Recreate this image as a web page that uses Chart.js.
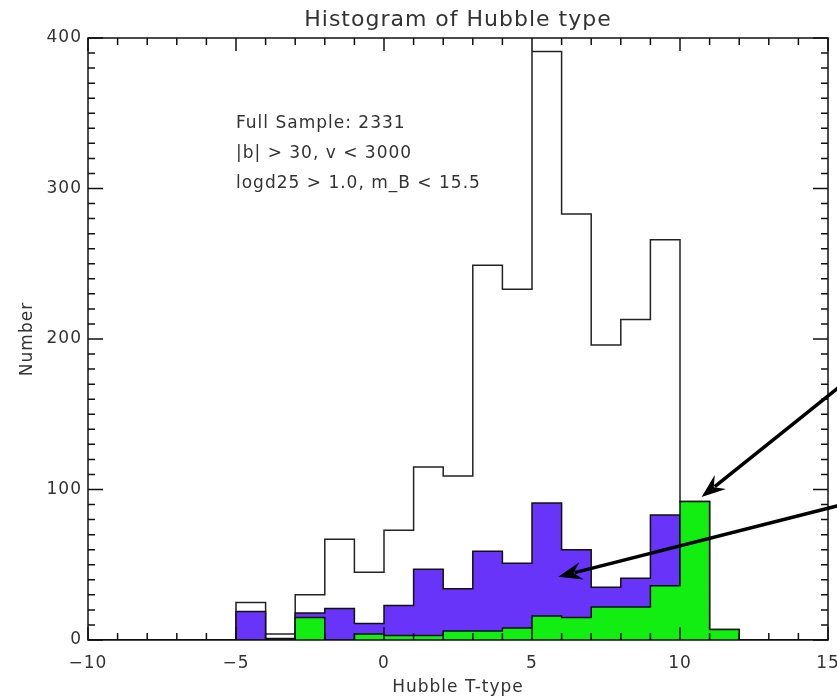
<!DOCTYPE html>
<html lang="en">
<head>
<meta charset="UTF-8">
<title>Histogram of Hubble type</title>
<script src="https://cdn.jsdelivr.net/npm/chart.js@4.4.0/dist/chart.umd.min.js"></script>
<style>
    html, body { margin: 0; padding: 0; background: #fff; overflow: hidden; }
    #wrap { width: 837px; height: 700px; overflow: hidden; }
</style>
</head>
<body>
<div id="wrap"><canvas id="hist" width="860" height="700"></canvas></div>

<script type="text/javascript">
    // left edge of each unit-wide T-type bin
    var binEdges = [-10, -9, -8, -7, -6, -5, -4, -3, -2, -1, 0, 1, 2, 3, 4, 5, 6, 7, 8, 9, 10, 11, 12, 13, 14];
    // full sample (outline only)
    var fullCounts = [0, 0, 0, 0, 0, 25, 4, 30, 67, 45, 73, 115, 109, 249, 233, 391, 283, 196, 213, 266, 92, 7, 0, 0, 0];
    // purple subsample
    var purpleCounts = [0, 0, 0, 0, 0, 19, 1, 18, 21, 11, 23, 47, 34, 59, 51, 91, 60, 35, 41, 83, 0, 0, 0, 0, 0];
    // green subsample
    var greenCounts = [0, 0, 0, 0, 0, 0, 0, 15, 0, 4, 3, 3, 6, 6, 8, 16, 15, 22, 22, 36, 92, 7, 0, 0, 0];

    var xTickValues = [-10, -5, 0, 5, 10, 15];
    var yTickValues = [0, 100, 200, 300, 400];
    var xMinorStep = 1, yMinorStep = 10;

    var notes = ['Full Sample: 2331', '|b| > 30, v < 3000', 'logd25 > 1.0, m_B < 15.5'];
    var notesX = -5.0, notesY = [343, 323, 303];

    // arrows [tailX, tailY, tipX, tipY] in axis units
    var arrows = [
        [15.5, 170, 10.73, 95],
        [15.5, 90, 5.89, 42]
    ];

    var FONT = '"DejaVu Sans", sans-serif';
    var INK = '#333';

    function stepPoints(counts) {
        var pts = binEdges.map(function (e, i) { return {x: e, y: counts[i]}; });
        pts.push({x: binEdges[binEdges.length - 1] + 1, y: 0});
        return pts;
    }

    function fmtTick(v) {
        return String(v).replace('-', '\u2212');
    }

    // IDL-like box with inward ticks on all four sides
    var frameTicks = {
        id: 'frameTicks',
        beforeLayout: function (chart) {
            chart.ctx.letterSpacing = '1px';
        },
        afterDatasetsDraw: function (chart) {
            var ctx = chart.ctx, a = chart.chartArea, sx = chart.scales.x, sy = chart.scales.y;
            ctx.save();
            ctx.strokeStyle = '#111';
            ctx.lineWidth = 1.5;
            ctx.strokeRect(a.left, a.top, a.right - a.left, a.bottom - a.top);
            ctx.beginPath();
            for (var v = sx.min; v <= sx.max; v += xMinorStep) {
                var px = sx.getPixelForValue(v);
                var len = xTickValues.indexOf(v) >= 0 ? 13 : 7;
                ctx.moveTo(px, a.bottom); ctx.lineTo(px, a.bottom - len);
                ctx.moveTo(px, a.top); ctx.lineTo(px, a.top + len);
            }
            for (var w = sy.min; w <= sy.max; w += yMinorStep) {
                var py = sy.getPixelForValue(w);
                var l2 = yTickValues.indexOf(w) >= 0 ? 15 : 7;
                ctx.moveTo(a.left, py); ctx.lineTo(a.left + l2, py);
                ctx.moveTo(a.right, py); ctx.lineTo(a.right - l2, py);
            }
            ctx.stroke();
            ctx.restore();
        },
        afterDraw: function (chart) {
            var ctx = chart.ctx, sx = chart.scales.x, sy = chart.scales.y;
            ctx.save();
            ctx.fillStyle = INK;
            ctx.font = '17px ' + FONT;
            ctx.textAlign = 'left';
            ctx.textBaseline = 'middle';
            notes.forEach(function (t, i) {
                ctx.fillText(t, sx.getPixelForValue(notesX), sy.getPixelForValue(notesY[i]));
            });

            ctx.strokeStyle = '#000';
            ctx.fillStyle = '#000';
            ctx.lineWidth = 3.5;
            arrows.forEach(function (ar) {
                var x0 = sx.getPixelForValue(ar[0]), y0 = sy.getPixelForValue(ar[1]);
                var x1 = sx.getPixelForValue(ar[2]), y1 = sy.getPixelForValue(ar[3]);
                var ang = Math.atan2(y1 - y0, x1 - x0), c = Math.cos(ang), s = Math.sin(ang);
                var len = 24, half = 9;
                ctx.beginPath();
                ctx.moveTo(x0, y0);
                ctx.lineTo(x1 - c * len * 0.7, y1 - s * len * 0.7);
                ctx.stroke();
                ctx.beginPath();
                ctx.moveTo(x1, y1);
                ctx.lineTo(x1 - c * len + s * half, y1 - s * len - c * half);
                ctx.lineTo(x1 - c * len * 0.65, y1 - s * len * 0.65);
                ctx.lineTo(x1 - c * len - s * half, y1 - s * len + c * half);
                ctx.closePath();
                ctx.fill();
            });
            ctx.restore();
        }
    };

    new Chart(document.getElementById('hist').getContext('2d'), {
        type: 'line',
        data: {
            datasets: [
                {
                    label: 'Full sample',
                    data: stepPoints(fullCounts),
                    stepped: true,
                    borderColor: '#222',
                    borderWidth: 1.5,
                    fill: false,
                    pointRadius: 0,
                    order: 3
                },
                {
                    label: 'Purple',
                    data: stepPoints(purpleCounts),
                    stepped: true,
                    borderColor: '#111',
                    borderWidth: 1.5,
                    backgroundColor: 'rgb(104, 52, 250)',
                    fill: 'origin',
                    pointRadius: 0,
                    order: 2
                },
                {
                    label: 'Green',
                    data: stepPoints(greenCounts),
                    stepped: true,
                    borderColor: '#111',
                    borderWidth: 1.5,
                    backgroundColor: 'rgb(18, 238, 18)',
                    fill: 'origin',
                    pointRadius: 0,
                    order: 1
                }
            ]
        },
        options: {
            responsive: false,
            animation: false,
            layout: {padding: {left: 0, right: 32, top: 0, bottom: 0}},
            plugins: {
                legend: {display: false},
                tooltip: {enabled: false},
                title: {
                    display: true,
                    fullSize: false,
                    text: 'Histogram of Hubble type',
                    color: INK,
                    font: {family: FONT, size: 22, weight: 'normal', lineHeight: 1.2},
                    padding: {top: 7, bottom: 4.6}
                }
            },
            scales: {
                x: {
                    type: 'linear',
                    min: -10,
                    max: 15,
                    afterBuildTicks: function (s) {
                        s.ticks = xTickValues.map(function (v) { return {value: v}; });
                    },
                    afterFit: function (s) { s.height = 60; },
                    grid: {display: false, drawTicks: false},
                    border: {display: false},
                    ticks: {
                        callback: fmtTick,
                        color: INK,
                        font: {family: FONT, size: 17},
                        padding: 13,
                        maxRotation: 0,
                        autoSkip: false
                    },
                    title: {
                        display: true,
                        text: 'Hubble T-type',
                        color: INK,
                        font: {family: FONT, size: 17},
                        padding: {top: 0, bottom: 2}
                    }
                },
                y: {
                    type: 'linear',
                    min: 0,
                    max: 400,
                    afterBuildTicks: function (s) {
                        s.ticks = yTickValues.map(function (v) { return {value: v}; });
                    },
                    afterFit: function (s) { s.width = 88; },
                    grid: {display: false, drawTicks: false},
                    border: {display: false},
                    ticks: {
                        color: INK,
                        font: {family: FONT, size: 17},
                        padding: 6
                    },
                    title: {
                        display: true,
                        text: 'Number',
                        color: INK,
                        font: {family: FONT, size: 17},
                        padding: {top: 17, bottom: 0}
                    }
                }
            }
        },
        plugins: [frameTicks]
    });
</script>
</body>
</html>
